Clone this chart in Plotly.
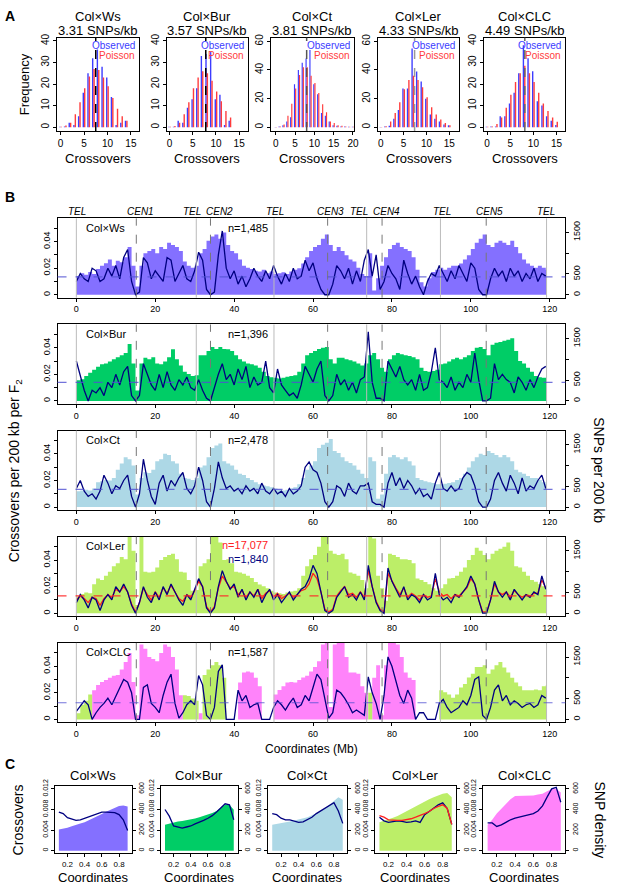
import plotly.graph_objects as go

W, H = 617, 886
FONT = "Liberation Sans, Arial, sans-serif"

# ---------------- data ----------------
crosses = ["Col×Ws", "Col×Bur", "Col×Ct", "Col×Ler", "Col×CLC"]
snp_per_kb = ["3.31", "3.57", "3.81", "4.33", "4.49"]

# A: distribution of crossovers per F2 (observed vs Poisson expectation)
obs_ws = [0.2, 0.3, 2, 1, 5, 16, 25, 32, 36, 28, 23, 14, 1, 2, 3]
poi_ws = [0.2, 0.8, 2, 6, 11.5, 18, 23.5, 27, 26.5, 23, 19, 13.5, 8.5, 5, 3]
obs_bur = [0.2, 0.2, 3, 2, 9, 13, 18, 33, 34, 35, 13, 15, 1, 3]
poi_bur = [0.2, 0.5, 2, 6, 11.5, 18, 23, 26, 25, 21.5, 16.5, 12, 7.5, 4.5]
obs_ct = [0.2, 0.5, 1.5, 4, 7, 30, 40, 45, 48, 54, 30, 23, 10, 8, 4, 1.5, 1, 0.5, 0.5, 0.3, 0.3]
poi_ct = [0.2, 0.5, 2, 8, 16.5, 27, 36.5, 42, 42, 36, 31, 24, 16, 10.5, 4, 3, 1.5, 1, 0.5, 0.3, 0.3]
obs_ler = [0.2, 0.5, 1, 6, 12, 27, 27, 55, 39, 32, 20, 9, 6, 4, 2, 1.5]
poi_ler = [0.2, 0.8, 4, 10, 17.5, 26.5, 33, 36, 33, 28, 21, 14, 9, 5.5, 3, 1.5]
obs_clc = [0.2, 0.3, 0.3, 5, 5, 11, 16, 25, 38, 32, 26, 12, 10, 5, 3, 1]
poi_clc = [0.2, 0.3, 1.5, 4.5, 9, 15, 21, 25, 28.5, 25, 21, 16, 11, 7.5, 4.5, 2.5]
hist_mean = [7.5, 7.8, 8.0, 7.4, 8.15]

# B: genome-wide crossover and SNP density (1 Mb steps)
pos_mb = list(range(120))
genome_end = 119.2
chrom_bounds = [0, 30.4, 50.1, 73.6, 92.3, 119.2]
centromeres = [15.2, 34.0, 63.7, 77.5, 103.9]
arm_labels = ["TEL", "CEN1", "TEL", "CEN2", "TEL", "CEN3", "TEL", "CEN4", "TEL", "CEN5", "TEL"]
arm_label_mb = [0.2, 16.2, 29.3, 36.4, 50.4, 64.4, 71.6, 78.6, 92.6, 104.8, 119.1]
n_labels = ["n=1,485", "n=1,396", "n=2,478", "n=1,840", "n=1,587"]
ler_large_n = "n=17,077"
co_mean = [0.0135, 0.014, 0.0133, 0.013, 0.0125]

snp_ws = [450, 520, 480, 550, 500, 620, 700, 760, 850, 700,
          820, 780, 900, 1150, 700, 200, 700, 1000, 1050, 1100,
          1000, 1150, 1100, 1250, 1200, 1150, 1050, 800, 700, 650,
          700, 1000, 1100, 1300, 1400, 1450, 1350, 1500, 1200, 1050,
          1000, 850, 700, 650, 620, 580, 560, 600, 520, 560,
          500, 520, 540, 500, 560, 600, 640, 750, 900, 1050,
          1150, 1200, 1350, 1450, 1200, 1050, 1150, 1050, 950, 850,
          800, 650, 500, 450, 1000, 100, 400, 700, 900, 1100,
          1200, 1250, 1150, 1100, 1050, 900, 600, 300, 200, 400,
          550, 600, 650, 600, 650, 700, 700, 750, 850, 950,
          1100, 1250, 1350, 1450, 1200, 1150, 1250, 1300, 1250, 1200,
          1300, 1150, 1000, 850, 750, 700, 650, 700, 650, 600]
snp_bur = [500, 520, 600, 680, 750, 820, 880, 900, 950, 1000,
           1050, 1100, 1150, 1370, 900, 250, 900, 1040, 1000, 1050,
           900, 880, 950, 1050, 1240, 1000, 850, 700, 650, 600,
           620, 1100, 1100, 1200, 1300, 1250, 1300, 1250, 1240, 1200,
           1100, 1000, 950, 900, 880, 850, 800, 700, 600, 570,
           560, 540, 560, 580, 600, 620, 700, 900, 1100, 1150,
           1200, 1250, 1280, 1300, 1000, 900, 1040, 1040, 1000, 980,
           950, 900, 850, 900, 1100, 1150, 1000, 800, 700, 1000,
           1100, 1150, 1120, 1100, 1080, 1050, 1000, 800, 720, 700,
           720, 750, 880, 900, 950, 1000, 1040, 1000, 1050, 1100,
           1200, 1280, 1300, 1250, 1100, 1350, 1400, 1420, 1450, 1470,
           1510, 1200, 960, 900, 800, 700, 600, 570, 560, 560]
snp_ct = [380, 400, 420, 400, 450, 600, 620, 650, 640, 700,
          900, 1050, 1200, 1150, 1000, 300, 700, 840, 820, 900,
          1100, 1150, 1280, 1250, 1100, 1050, 800, 700, 680, 650,
          700, 950, 1000, 1200, 1420, 1480, 1530, 1100, 1050, 1000,
          900, 800, 770, 700, 650, 600, 550, 520, 500, 480,
          450, 420, 400, 420, 450, 480, 550, 700, 900, 1000,
          1100, 1420, 1500, 1550, 1640, 1350, 1300, 1200, 1100, 1060,
          1000, 900, 800, 700, 1200, 1100, 200, 300, 800, 1200,
          1250, 1200, 1150, 1200, 1100, 1000, 700, 650, 620, 600,
          580, 550, 550, 560, 580, 600, 650, 700, 800, 950,
          1100, 1200, 1280, 1250, 1350, 1300, 1250, 1200, 1250, 1200,
          1100, 900, 840, 800, 750, 700, 700, 650, 600, 550]
snp_ler = [400, 465, 500, 480, 700, 835, 800, 900, 1000, 1130,
           1200, 1350, 1300, 1900, 1500, 200, 1900, 1000, 980, 1000,
           1100, 1280, 1350, 1400, 1430, 1300, 1000, 980, 800, 540,
           560, 1130, 1200, 1300, 1900, 1900, 1700, 1280, 1300, 1200,
           1000, 980, 950, 900, 850, 750, 690, 650, 600, 540,
           500, 480, 465, 500, 520, 540, 600, 900, 1130, 1300,
           1400, 1600, 1900, 1900, 1500, 1430, 1400, 1430, 1300, 980,
           950, 900, 800, 600, 1900, 1800, 900, 600, 300, 1430,
           1400, 1350, 1300, 1300, 1280, 1200, 835, 800, 750, 700,
           600, 540, 600, 700, 835, 850, 900, 1000, 1100, 1280,
           1400, 1575, 1500, 1400, 1300, 1430, 1500, 1550, 1600, 1700,
           1500, 1130, 1100, 1000, 900, 800, 760, 700, 650, 540]
snp_clc = [150, 350, 450, 600, 700, 830, 900, 950, 1000, 1050,
           1070, 1200, 1380, 1600, 900, 100, 1800, 1700, 1500, 1450,
           1400, 1600, 1800, 1750, 1500, 1200, 580, 580, 560, 500,
           450, 150, 1070, 1200, 1300, 1380, 1300, 1000, 0, 0,
           0, 890, 1130, 1150, 1130, 1000, 800, 0, 0, 0,
           600, 705, 800, 890, 900, 890, 950, 1010, 1050, 1150,
           1260, 1400, 1800, 1900, 300, 1800, 1900, 1850, 1500, 1130,
           1130, 1100, 800, 640, 640, 1000, 1300, 100, 1300, 1900,
           1900, 1800, 1500, 1130, 1000, 950, 0, 0, 0, 0,
           0, 0, 700, 650, 600, 520, 600, 770, 850, 1010,
           1100, 1260, 1260, 1300, 1100, 1200, 1300, 1380, 1250, 1130,
           1000, 890, 800, 700, 700, 700, 720, 700, 800, 830]
# origin of SNPs in Col×CLC: (start Mb, end Mb, source)
clc_origin_segments = [(0, 4, "Ler"), (4, 27, "CLC"), (27, 31, "Ler"), (31, 32, "CLC"),
                       (32, 38, "Ler"), (38, 41, "none"), (41, 47, "CLC"), (47, 50, "none"),
                       (50, 74, "CLC"), (74, 75, "Ler"), (75, 86, "CLC"), (86, 92, "none"),
                       (92, 120, "Ler")]

co_ws = [0.010, 0.016, 0.012, 0.010, 0.020, 0.018, 0.010, 0.012, 0.020, 0.014,
         0.022, 0.012, 0.028, 0.034, 0.010, 0.0, 0.002, 0.028, 0.024, 0.012,
         0.018, 0.014, 0.010, 0.028, 0.026, 0.010, 0.016, 0.022, 0.012, 0.010,
         0.018, 0.032, 0.026, 0.004, 0.0, 0.002, 0.030, 0.048, 0.020, 0.012,
         0.018, 0.008, 0.014, 0.006, 0.012, 0.020, 0.014, 0.010, 0.018, 0.012,
         0.022, 0.014, 0.008, 0.016, 0.010, 0.020, 0.012, 0.014, 0.026, 0.018,
         0.024, 0.012, 0.004, 0.0, 0.0, 0.008, 0.022, 0.018, 0.012, 0.020,
         0.008, 0.018, 0.010, 0.026, 0.034, 0.014, 0.030, 0.004, 0.010, 0.022,
         0.016, 0.012, 0.004, 0.026, 0.016, 0.008, 0.014, 0.006, 0.0, 0.010,
         0.016, 0.014, 0.022, 0.016, 0.010, 0.018, 0.012, 0.022, 0.016, 0.010,
         0.024, 0.020, 0.004, 0.0, 0.0, 0.012, 0.020, 0.014, 0.018, 0.010,
         0.020, 0.014, 0.018, 0.010, 0.016, 0.012, 0.020, 0.010, 0.016, 0.014]
co_bur = [0.030, 0.020, 0.008, 0.000, 0.008, 0.006, 0.010, 0.004, 0.014, 0.010,
          0.020, 0.012, 0.022, 0.026, 0.004, 0.0, 0.004, 0.028, 0.020, 0.012,
          0.008, 0.020, 0.010, 0.022, 0.012, 0.008, 0.016, 0.012, 0.018, 0.010,
          0.008, 0.016, 0.008, 0.002, 0.0, 0.010, 0.020, 0.028, 0.016, 0.020,
          0.012, 0.024, 0.016, 0.026, 0.010, 0.018, 0.012, 0.014, 0.030, 0.010,
          0.006, 0.024, 0.012, 0.008, 0.004, 0.006, 0.002, 0.012, 0.026, 0.020,
          0.014, 0.024, 0.030, 0.004, 0.0, 0.004, 0.020, 0.012, 0.016, 0.008,
          0.014, 0.006, 0.016, 0.018, 0.052, 0.014, 0.002, 0.002, 0.000, 0.030,
          0.024, 0.018, 0.026, 0.016, 0.012, 0.016, 0.008, 0.020, 0.008, 0.010,
          0.022, 0.040, 0.016, 0.014, 0.010, 0.018, 0.008, 0.014, 0.010, 0.020,
          0.014, 0.036, 0.016, 0.0, 0.0, 0.002, 0.028, 0.016, 0.020, 0.016,
          0.014, 0.006, 0.018, 0.014, 0.008, 0.016, 0.010, 0.018, 0.024, 0.026]
co_ct = [0.014, 0.020, 0.012, 0.008, 0.010, 0.006, 0.012, 0.024, 0.018, 0.010,
         0.016, 0.014, 0.020, 0.024, 0.008, 0.0, 0.010, 0.036, 0.020, 0.008,
         0.002, 0.018, 0.024, 0.012, 0.020, 0.016, 0.022, 0.026, 0.014, 0.010,
         0.016, 0.030, 0.020, 0.004, 0.0, 0.014, 0.034, 0.022, 0.014, 0.016,
         0.012, 0.014, 0.010, 0.016, 0.012, 0.014, 0.010, 0.018, 0.012, 0.010,
         0.014, 0.010, 0.012, 0.008, 0.014, 0.010, 0.012, 0.016, 0.030, 0.034,
         0.028, 0.026, 0.018, 0.004, 0.0, 0.004, 0.016, 0.014, 0.008, 0.018,
         0.012, 0.010, 0.016, 0.016, 0.018, 0.004, 0.002, 0.002, 0.0, 0.018,
         0.026, 0.016, 0.022, 0.014, 0.020, 0.016, 0.010, 0.014, 0.008, 0.010,
         0.006, 0.018, 0.026, 0.014, 0.012, 0.016, 0.012, 0.014, 0.022, 0.026,
         0.024, 0.016, 0.004, 0.0, 0.0, 0.006, 0.020, 0.026, 0.018, 0.012,
         0.024, 0.018, 0.010, 0.022, 0.012, 0.016, 0.014, 0.020, 0.024, 0.014]
co_ler = [0.008, 0.014, 0.010, 0.004, 0.012, 0.010, 0.002, 0.010, 0.014, 0.010,
          0.020, 0.016, 0.022, 0.016, 0.006, 0.0, 0.008, 0.020, 0.012, 0.008,
          0.016, 0.010, 0.020, 0.014, 0.022, 0.016, 0.010, 0.006, 0.014, 0.010,
          0.018, 0.026, 0.020, 0.004, 0.0, 0.004, 0.020, 0.032, 0.024, 0.018,
          0.022, 0.012, 0.018, 0.010, 0.016, 0.012, 0.018, 0.008, 0.014, 0.018,
          0.010, 0.014, 0.008, 0.012, 0.016, 0.010, 0.014, 0.018, 0.020, 0.026,
          0.036, 0.030, 0.016, 0.002, 0.0, 0.002, 0.012, 0.016, 0.020, 0.012,
          0.014, 0.010, 0.016, 0.010, 0.036, 0.020, 0.008, 0.002, 0.0, 0.034,
          0.024, 0.018, 0.012, 0.020, 0.010, 0.014, 0.012, 0.008, 0.014, 0.010,
          0.012, 0.030, 0.014, 0.010, 0.012, 0.008, 0.014, 0.012, 0.016, 0.020,
          0.028, 0.022, 0.010, 0.0, 0.0, 0.010, 0.024, 0.016, 0.012, 0.016,
          0.010, 0.018, 0.014, 0.010, 0.014, 0.012, 0.016, 0.014, 0.028, 0.018]
co_ler_large = [0.010, 0.013, 0.011, 0.008, 0.012, 0.011, 0.006, 0.011, 0.014, 0.012,
                0.018, 0.016, 0.020, 0.016, 0.007, 0.001, 0.008, 0.019, 0.014, 0.010,
                0.016, 0.012, 0.019, 0.015, 0.021, 0.016, 0.011, 0.009, 0.014, 0.012,
                0.017, 0.024, 0.020, 0.005, 0.001, 0.005, 0.019, 0.028, 0.023, 0.019,
                0.020, 0.014, 0.017, 0.012, 0.016, 0.013, 0.018, 0.011, 0.015, 0.017,
                0.012, 0.015, 0.011, 0.013, 0.015, 0.012, 0.014, 0.017, 0.018, 0.022,
                0.030, 0.026, 0.016, 0.003, 0.001, 0.003, 0.013, 0.017, 0.020, 0.014,
                0.015, 0.012, 0.016, 0.012, 0.032, 0.020, 0.009, 0.003, 0.001, 0.030,
                0.024, 0.019, 0.014, 0.019, 0.012, 0.015, 0.013, 0.010, 0.014, 0.012,
                0.013, 0.026, 0.016, 0.013, 0.014, 0.011, 0.014, 0.013, 0.016, 0.019,
                0.026, 0.022, 0.010, 0.001, 0.001, 0.010, 0.022, 0.016, 0.014, 0.016,
                0.012, 0.017, 0.014, 0.012, 0.014, 0.013, 0.015, 0.015, 0.025, 0.019]
co_clc = [0.006, 0.010, 0.014, 0.011, 0.0, 0.005, 0.009, 0.012, 0.016, 0.011,
          0.017, 0.024, 0.030, 0.028, 0.020, 0.0, 0.0, 0.024, 0.026, 0.012,
          0.009, 0.005, 0.018, 0.028, 0.034, 0.012, 0.001, 0.005, 0.011, 0.014,
          0.011, 0.033, 0.026, 0.003, 0.0, 0.009, 0.036, 0.041, 0.0, 0.0,
          0.0, 0.022, 0.014, 0.018, 0.009, 0.011, 0.012, 0.0, 0.0, 0.0,
          0.009, 0.014, 0.011, 0.007, 0.012, 0.016, 0.009, 0.011, 0.018, 0.014,
          0.024, 0.034, 0.030, 0.014, 0.001, 0.005, 0.022, 0.020, 0.016, 0.011,
          0.005, 0.007, 0.005, 0.003, 0.032, 0.020, 0.012, 0.0, 0.018, 0.047,
          0.040, 0.028, 0.018, 0.012, 0.022, 0.016, 0.0, 0.005, 0.005, 0.0,
          0.0, 0.0, 0.012, 0.015, 0.009, 0.005, 0.007, 0.009, 0.014, 0.011,
          0.018, 0.030, 0.032, 0.003, 0.0, 0.009, 0.022, 0.026, 0.014, 0.018,
          0.011, 0.014, 0.012, 0.009, 0.011, 0.012, 0.009, 0.011, 0.018, 0.016]

# C: chromosome-arm profiles (TEL -> CEN, proportional coordinates)
arm_pos = [0.1, 0.15, 0.2, 0.25, 0.3, 0.35, 0.4, 0.45, 0.5, 0.55, 0.6, 0.65, 0.7, 0.75, 0.8, 0.85, 0.9]
arm_snp_ws = [205, 213, 222, 237, 253, 265, 277, 295, 313, 335, 357, 378, 398, 416, 434, 439, 429]
arm_snp_bur = [253, 265, 277, 283, 289, 295, 301, 313, 325, 337, 349, 367, 386, 416, 446, 446, 398]
arm_snp_ct = [253, 259, 265, 275, 284, 292, 301, 313, 325, 343, 361, 386, 410, 446, 482, 518, 494]
arm_snp_ler = [277, 289, 301, 319, 337, 361, 386, 410, 434, 458, 482, 500, 518, 536, 554, 559, 518]
arm_snp_clc = [253, 300, 361, 410, 458, 500, 530, 532, 535, 535, 535, 545, 554, 578, 598, 602, 566]
arm_co_ws = [0.0075, 0.0072, 0.0064, 0.0061, 0.0059, 0.0060, 0.0063, 0.0066, 0.0070, 0.0073, 0.0075, 0.0075, 0.0075, 0.0074, 0.0070, 0.0060, 0.0039]
arm_co_bur = [0.0080, 0.0067, 0.0048, 0.0046, 0.0044, 0.0046, 0.0048, 0.0052, 0.0055, 0.0059, 0.0063, 0.0068, 0.0075, 0.0084, 0.0091, 0.0089, 0.0060]
arm_co_ct = [0.0072, 0.0070, 0.0063, 0.0060, 0.0060, 0.0058, 0.0055, 0.0056, 0.0060, 0.0065, 0.0072, 0.0077, 0.0082, 0.0088, 0.0093, 0.0077, 0.0053]
arm_co_ler = [0.0065, 0.0058, 0.0055, 0.0056, 0.0058, 0.0057, 0.0055, 0.0056, 0.0058, 0.0055, 0.0070, 0.0076, 0.0082, 0.0089, 0.0093, 0.0082, 0.0051]
arm_co_ler_large = [0.0068, 0.0065, 0.0060, 0.0059, 0.0059, 0.0059, 0.0060, 0.0062, 0.0065, 0.0068, 0.0072, 0.0076, 0.0082, 0.0086, 0.0089, 0.0082, 0.0051]
arm_co_clc = [0.0054, 0.0054, 0.0047, 0.0050, 0.0055, 0.0060, 0.0063, 0.0065, 0.0067, 0.0069, 0.0072, 0.0077, 0.0087, 0.0104, 0.0120, 0.0123, 0.0094]

# ---------------- styling ----------------
OBS_C = "#3C3CFF"
POI_C = "#FF3C3C"
NAVY = "#000080"
FILLS = ["#8470FF", "#00CD66", "#ADD8E6", "#BCEE68", "#FF83FA"]
LER_GREEN = "#BCEE68"
MEAN_C = "rgba(80,80,210,0.8)"

fig = go.Figure()
L = dict(width=W, height=H, margin=dict(l=0, r=0, t=0, b=0), paper_bgcolor="white",
         plot_bgcolor="white", showlegend=False, barmode="overlay",
         font=dict(family=FONT, size=10, color="black"))
ann = []
shp = []


def px_x(p):
    return p / W


def px_y(p):
    return 1 - p / H


counter = {"x": 0, "y": 0}


def nid(kind):
    counter[kind] += 1
    k = counter[kind]
    return kind + ("" if k == 1 else str(k))


def lname(a):
    return a[0] + "axis" + a[1:]


def axis(**kw):
    d = dict(showgrid=False, zeroline=False, showline=True, linecolor="black", linewidth=1,
             ticks="outside", ticklen=3, tickwidth=1, tickcolor="black",
             tickfont=dict(size=9, color="black"), fixedrange=True)
    d.update(kw)
    return d


def text(x, y, s, size=10, color="black", angle=0, xanchor="center", yanchor="middle",
         xref="paper", yref="paper"):
    ann.append(dict(x=x, y=y, xref=xref, yref=yref, text=s, showarrow=False, textangle=angle,
                    xanchor=xanchor, yanchor=yanchor, font=dict(size=size, color=color, family=FONT)))


# ---------------- Panel A ----------------
hist_obs = [obs_ws, obs_bur, obs_ct, obs_ler, obs_clc]
hist_poi = [poi_ws, poi_bur, poi_ct, poi_ler, poi_clc]
hist_frames = [(57, 140), (168, 250), (273, 357), (381, 463), (488, 570)]
hist_xr = [[-0.86, 16.7], [-0.64, 16.9], [-1.3, 20.3], [-0.65, 17.2], [-0.64, 16.9]]
hist_yr = [[-1.8, 41.5], [-1.8, 41.5], [-2.6, 62.5], [-2.6, 62.5], [-1.8, 41.5]]
hist_xt = [[0, 5, 10, 15]] * 2 + [[0, 5, 10, 15, 20]] + [[0, 5, 10, 15]] * 2
hist_yt = [[0, 10, 20, 30, 40]] * 2 + [[0, 20, 40, 60]] * 2 + [[0, 10, 20, 30, 40]]
hist_mean_col = ["black", "black", "#555555", "#999999", "#666666"]
HT, HB = 31, 125

text(px_x(3), px_y(9), "<b>A</b>", size=14, xanchor="left")
text(px_x(25), px_y((HT + HB) / 2), "Frequency", size=13, angle=-90)
for i in range(5):
    xa, ya = nid("x"), nid("y")
    x0, x1 = hist_frames[i]
    L[lname(xa)] = axis(domain=[px_x(x0), px_x(x1)], anchor=ya, range=hist_xr[i],
                        tickvals=hist_xt[i], mirror=True, tickfont=dict(size=10))
    L[lname(ya)] = axis(domain=[px_y(HB), px_y(HT)], anchor=xa, range=hist_yr[i],
                        tickvals=hist_yt[i], tickangle=-90, mirror=True, tickfont=dict(size=10))
    ks = list(range(len(hist_obs[i])))
    fig.add_trace(go.Bar(x=ks, y=hist_obs[i], offset=-0.3, width=0.3,
                         marker=dict(color=OBS_C, line=dict(width=0)), xaxis=xa, yaxis=ya))
    fig.add_trace(go.Bar(x=ks, y=hist_poi[i], offset=0.0, width=0.3,
                         marker=dict(color=POI_C, line=dict(width=0)), xaxis=xa, yaxis=ya))
    shp.append(dict(type="line", xref=xa, yref=ya + " domain", x0=hist_mean[i], x1=hist_mean[i],
                    y0=0, y1=1, line=dict(color=hist_mean_col[i], width=1.5, dash="dash")))
    cx = (x0 + x1) / 2
    text(px_x(cx), px_y(10), crosses[i], size=13)
    text(px_x(cx), px_y(24), snp_per_kb[i] + " SNPs/kb", size=13)
    text(px_x(x1 - 2), px_y(39), "Observed", size=10, color=OBS_C, xanchor="right")
    text(px_x(x1 - 2), px_y(49), "Poisson", size=10, color=POI_C, xanchor="right")
    text(px_x(cx), px_y(153), "Crossovers", size=13)

# ---------------- Panel B ----------------
B_X0, B_X1 = 58, 570
B_TOPS = [213, 320, 427, 534, 641]
B_H = 80
B_XR = [-4.77, 123.97]
CO_R = [-0.0022, 0.0575]
SNP_R = [-70, 1839]
snps = [snp_ws, snp_bur, snp_ct, snp_ler, snp_clc]
cos = [co_ws, co_bur, co_ct, co_ler, co_clc]
x_edges = pos_mb + [genome_end]

clc_origin = []
for mb in pos_mb:
    for s, e, o in clc_origin_segments:
        if s <= mb < e:
            clc_origin.append(o)
            break

text(px_x(3), px_y(192), "<b>B</b>", size=14, xanchor="left")
for i in range(5):
    xa, ys, yc = nid("x"), nid("y"), nid("y")
    top = B_TOPS[i]
    bot = top + B_H
    L[lname(xa)] = axis(domain=[px_x(B_X0), px_x(B_X1)], anchor=ys, range=B_XR,
                        tickvals=list(range(0, 121, 20)), mirror=True)
    L[lname(ys)] = axis(domain=[px_y(bot), px_y(top)], anchor=xa, side="right", range=SNP_R,
                        tickvals=[0, 500, 1000, 1500], ticktext=["0", "500", " ", "1500"], tickangle=-90)
    L[lname(yc)] = axis(anchor=xa, overlaying=ys, side="left", range=CO_R,
                        tickvals=[0, 0.01, 0.02, 0.03, 0.04, 0.05],
                        ticktext=["0", " ", "0.02", " ", "0.04", " "], tickangle=-90)
    if i < 4:
        layers = [(snps[i], FILLS[i])]
    else:
        pink = [v if o == "CLC" else 0 for v, o in zip(snp_clc, clc_origin)]
        green = [v if o == "Ler" else 0 for v, o in zip(snp_clc, clc_origin)]
        layers = [(pink, FILLS[4]), (green, LER_GREEN)]
    for vals, col in layers:
        fig.add_trace(go.Scatter(x=x_edges, y=list(vals) + [vals[-1]], mode="lines",
                                 line=dict(width=0, shape="hv", color=col), fill="tozeroy",
                                 fillcolor=col, xaxis=xa, yaxis=ys, hoverinfo="skip"))
    if i == 3:
        fig.add_trace(go.Scatter(x=pos_mb, y=co_ler_large, mode="lines",
                                 line=dict(color="#FF2020", width=1.3), xaxis=xa, yaxis=yc))
    fig.add_trace(go.Scatter(x=pos_mb, y=cos[i], mode="lines",
                             line=dict(color=NAVY, width=1.3), xaxis=xa, yaxis=yc))
    for b in chrom_bounds:
        shp.append(dict(type="line", xref=xa, yref=ys + " domain", x0=b, x1=b, y0=0, y1=1,
                        layer="above", line=dict(color="#BBBBBB", width=1)))
    for c in centromeres:
        shp.append(dict(type="line", xref=xa, yref=ys + " domain", x0=c, x1=c, y0=0, y1=1,
                        layer="above", line=dict(color="#777777", width=1, dash="dash")))
    shp.append(dict(type="line", xref=xa + " domain", yref=yc, x0=0, x1=1, y0=co_mean[i],
                    y1=co_mean[i], layer="above",
                    line=dict(color="rgba(255,40,40,0.9)" if i == 3 else MEAN_C, width=1.2, dash="dash")))
    text(2, 0.0505, crosses[i], size=11, xanchor="left", xref=xa, yref=yc)
    if i == 3:
        text(49, 0.0510, ler_large_n, size=11, color="#FF2020", xanchor="right", xref=xa, yref=yc)
        text(49, 0.0410, n_labels[i], size=11, color=NAVY, xanchor="right", xref=xa, yref=yc)
    else:
        text(49, 0.0505, n_labels[i], size=11, xanchor="right", xref=xa, yref=yc)
    if i == 0:
        for lab, mb in zip(arm_labels, arm_label_mb):
            text(mb, px_y(top - 7), "<i>" + lab + "</i>", size=10, xref=xa, yref="paper")

text(px_x((B_X0 + B_X1) / 2), px_y(B_TOPS[-1] + B_H + 27), "Coordinates (Mb)", size=12)
text(px_x(15), px_y((B_TOPS[0] + B_TOPS[-1] + B_H) / 2), "Crossovers per 200 kb per F<sub>2</sub>",
     size=14, angle=-90)
text(px_x(604), px_y((B_TOPS[0] + B_TOPS[-1] + B_H) / 2), "SNPs per 200 kb", size=14, angle=90)

# ---------------- Panel C ----------------
C_FRAMES = [(55, 133), (162, 240), (270, 350), (378, 460), (487, 570)]
C_TOP, C_BOT = 785, 853
arm_snps = [arm_snp_ws, arm_snp_bur, arm_snp_ct, arm_snp_ler, arm_snp_clc]
arm_cos = [arm_co_ws, arm_co_bur, arm_co_ct, arm_co_ler, arm_co_clc]

text(px_x(3), px_y(763), "<b>C</b>", size=14, xanchor="left")
for i in range(5):
    xa, ys, yc = nid("x"), nid("y"), nid("y")
    x0, x1 = C_FRAMES[i]
    L[lname(xa)] = axis(domain=[px_x(x0), px_x(x1)], anchor=ys, range=[0.05, 0.95],
                        tickvals=[0.2, 0.4, 0.6, 0.8], tickfont=dict(size=8), mirror=True)
    L[lname(ys)] = axis(domain=[px_y(C_BOT), px_y(C_TOP)], anchor=xa, side="right", range=[-25, 630],
                        tickvals=[0, 200, 400, 600], tickangle=-90, tickfont=dict(size=7))
    L[lname(yc)] = axis(anchor=xa, overlaying=ys, side="left", range=[-0.0005, 0.0126],
                        tickvals=[0, 0.004, 0.008, 0.012], tickangle=-90, tickfont=dict(size=7))
    fig.add_trace(go.Scatter(x=arm_pos, y=arm_snps[i], mode="lines", line=dict(width=0, color=FILLS[i]),
                             fill="tozeroy", fillcolor=FILLS[i], xaxis=xa, yaxis=ys, hoverinfo="skip"))
    fig.add_trace(go.Scatter(x=arm_pos, y=arm_cos[i], mode="lines", line=dict(color=NAVY, width=1.3),
                             xaxis=xa, yaxis=yc))
    if i == 3:
        fig.add_trace(go.Scatter(x=arm_pos, y=arm_co_ler_large, mode="lines",
                                 line=dict(color="#FF2020", width=1.3), xaxis=xa, yaxis=yc))
    text(0, px_y(C_BOT + 9), "<i>TEL</i>", size=8, xref=xa, yref="paper")
    text(1, px_y(C_BOT + 9), "<i>CEN</i>", size=8, xref=xa, yref="paper")
    cx = (x0 + x1) / 2
    text(px_x(cx), px_y(C_TOP - 10), crosses[i], size=13)
    text(px_x(cx), px_y(C_BOT + 24), "Coordinates", size=13)

text(px_x(18), px_y((C_TOP + C_BOT) / 2), "Crossovers", size=14, angle=-90)
text(px_x(605), px_y((C_TOP + C_BOT) / 2), "SNP density", size=14, angle=90)

L["annotations"] = ann
L["shapes"] = shp
fig.update_layout(**L)
fig.write_html("out.html", config={"displayModeBar": False, "staticPlot": True},
               post_script="document.body.style.margin='0px';")
